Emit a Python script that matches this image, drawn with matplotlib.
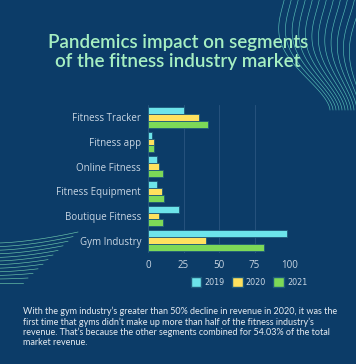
import numpy as np
import matplotlib
matplotlib.use('Agg')
import matplotlib.pyplot as plt
import matplotlib.patches as mpatches

# data
categories = ['Fitness Tracker', 'Fitness app', 'Online Fitness',
              'Fitness Equipment', 'Boutique Fitness', 'Gym Industry']
years = ['2019', '2020', '2021']
v2019 = [25, 3, 6, 6, 22, 98]
v2020 = [36, 4, 8, 10, 8, 41]
v2021 = [42, 4.5, 10.5, 11.5, 10.5, 82]
xticks = [0, 25, 50, 75, 100]

bg = '#0c3c68'
colors = ['#6de4ea', '#ffe15e', '#7dd957']
edge = '#1f5a7a'
label_col = '#c9d6e3'

fig = plt.figure(figsize=(3.56, 3.64), dpi=100, facecolor=bg)

# decorative lines in the background
deco = fig.add_axes([0, 0, 1, 1], zorder=0)
deco.set_xlim(0, 356)
deco.set_ylim(364, 0)
deco.axis('off')
t = np.linspace(0, 1, 120)
s = t * t * (3 - 2 * t)
for i in range(12):
    # top right wave
    x_top = 285 + i * 7
    x_bot = 330 + i * 3
    x = x_top * (1 - s) + x_bot * s - (22 - i * 0.8) * np.sin(np.pi * t) ** 1.5
    deco.plot(x, t * 115 - 5, color='#64d4c4', lw=0.45, alpha=0.85)
    # bottom left sweep
    x_end = 78 - i * 5
    y0 = 243 + i * 3.6
    y_end = 232 + i * 4.6
    xx = np.linspace(-3, x_end, 60)
    u = (xx + 3) / (x_end + 3)
    yy = y0 + (y_end - y0) * u ** 1.6
    deco.plot(xx, yy, color='#7ee0b8', lw=0.45, alpha=0.85)

fig.text(0.5, 1 - 52 / 364, 'Pandemics impact on segments\nof the fitness industry market',
         ha='center', va='center', color='#a6efc2', fontsize=13.5,
         family='Lato', weight='semibold', linespacing=1.1)

ax = fig.add_axes([148 / 356, 1 - 253 / 364, 142 / 356, 148 / 364], zorder=1)
ax.set_facecolor('none')
y = np.arange(len(categories))
h = 0.28
for k, vals in enumerate([v2019, v2020, v2021]):
    ax.barh(y + (k - 1) * h, vals, height=h, color=colors[k],
            edgecolor=edge, linewidth=0.6, label=years[k], zorder=3)

ax.set_ylim(len(categories) - 0.5, -0.5)
ax.set_xlim(0, 100)
ax.set_yticks(y)
ax.set_yticklabels(categories, family='Open Sans', fontsize=7, color=label_col)
ax.set_xticks(xticks)
ax.set_xticklabels([str(v) for v in xticks], family='Open Sans', fontsize=7, color=label_col)
ax.tick_params(length=0, pad=5)
ax.grid(axis='x', color='#2a5680', lw=0.6, zorder=0)
for sp in ax.spines.values():
    sp.set_visible(False)

handles = [mpatches.Patch(facecolor=colors[k], edgecolor=edge, label=years[k]) for k in range(3)]
leg = fig.legend(handles=handles, loc='center', bbox_to_anchor=(249 / 356, 1 - 282 / 364),
                 ncol=3, frameon=False, fontsize=5.8, handlelength=1.3, handleheight=1.5,
                 columnspacing=0.9, handletextpad=0.4)
for txt in leg.get_texts():
    txt.set_color(label_col)

fig.text(23 / 356, 1 - 307 / 364,
         "With the gym industry\u2019s greater than 50% decline in revenue in 2020, it was the\n"
         "first time that gyms didn\u2019t make up more than half of the fitness industry\u2019s\n"
         "revenue. That\u2019s because the other segments combined for 54.03% of the total\n"
         "market revenue.",
         ha='left', va='top', color='#e6ecf2', fontsize=6.5, family='Lato',
         linespacing=1.12)

plt.savefig('out.png', dpi=100, facecolor=bg)
